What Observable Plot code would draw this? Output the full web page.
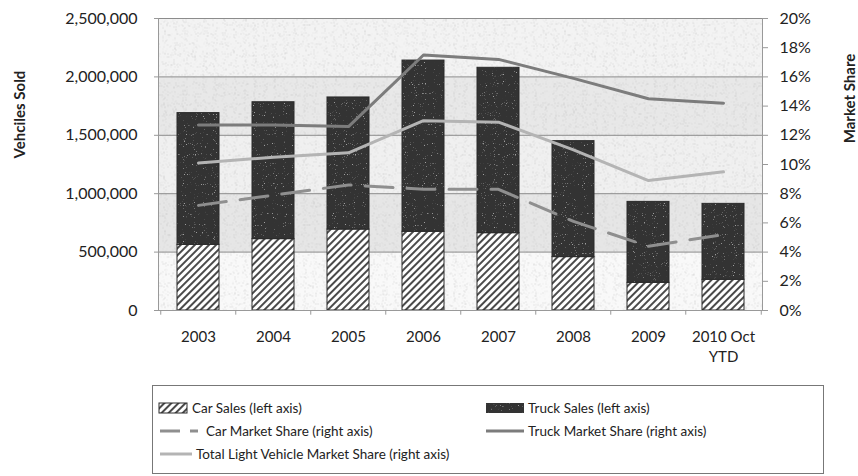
<!DOCTYPE html>
<html><head><meta charset="utf-8">
<script src="https://cdn.jsdelivr.net/npm/d3@7"></script>
<script src="https://cdn.jsdelivr.net/npm/@observablehq/plot@0.6"></script>
<style>
body{margin:0;background:#fff;font-family:Lato,"Open Sans",sans-serif;}
#chart svg{display:block;}
.legend{position:absolute;left:152px;top:385px;width:672px;height:89px;border:1px solid #777;box-sizing:border-box;font-size:13.5px;color:#222;font-family:Lato,sans-serif;}
.item{position:absolute;display:flex;align-items:center;height:20px;white-space:nowrap;}
.item svg{margin-right:4px;}
</style></head><body>
<svg width="0" height="0" style="position:absolute">
<defs>
<pattern id="hatch" patternUnits="userSpaceOnUse" width="5" height="5" patternTransform="rotate(45)">
<rect width="5" height="5" fill="#fff"/>
<line x1="1" y1="0" x2="1" y2="5" stroke="#2a2a2a" stroke-width="1.7"/>
</pattern>
<filter id="nzDark" x="0" y="0" width="100%" height="100%">
<feTurbulence type="fractalNoise" baseFrequency="0.9" numOctaves="1" seed="4"/>
<feColorMatrix type="matrix" values="0 0 0 0 0.45  0 0 0 0 0.45  0 0 0 0 0.45  9 0 0 0 -5.4"/>
</filter>
<filter id="nzLight" x="0" y="0" width="100%" height="100%">
<feTurbulence type="fractalNoise" baseFrequency="0.9" numOctaves="1" seed="7"/>
<feColorMatrix type="matrix" values="0 0 0 0 0.5  0 0 0 0 0.5  0 0 0 0 0.5  9 0 0 0 -5.9"/>
</filter>
<pattern id="truckTex" patternUnits="userSpaceOnUse" width="160" height="160">
<rect width="160" height="160" fill="#333"/>
<rect width="160" height="160" fill="#fff" filter="url(#nzLight)" opacity="0.8"/>
</pattern>
<pattern id="speck" patternUnits="userSpaceOnUse" width="200" height="200">
<rect width="200" height="200" fill="#fff" filter="url(#nzDark)" opacity="0.5"/>
</pattern>
<linearGradient id="bg" x1="0" y1="0" x2="0" y2="1">
<stop offset="0" stop-color="#f3f3f3"/><stop offset="0.2" stop-color="#f3f3f3"/>
<stop offset="0.2" stop-color="#e8e8e8"/><stop offset="0.4" stop-color="#e8e8e8"/>
<stop offset="0.4" stop-color="#f0f0f0"/><stop offset="0.6" stop-color="#f0f0f0"/>
<stop offset="0.6" stop-color="#e6e6e6"/><stop offset="0.8" stop-color="#e6e6e6"/>
<stop offset="0.8" stop-color="#f9f9f9"/><stop offset="1" stop-color="#f9f9f9"/>
</linearGradient>
</defs>
</svg>
<div id="chart"></div>
<div class="legend" id="legend"></div>
<script>
// ---- data ----
const years = ["2003", "2004", "2005", "2006", "2007", "2008", "2009", "2010 Oct\nYTD"];
const carSales = [562000, 611000, 693000, 674000, 662000, 457000, 237000, 263000];
const truckSales = [1128000, 1172000, 1131000, 1466000, 1416000, 993000, 693000, 650000];
const carShare = [7.2, 7.9, 8.6, 8.3, 8.3, 6.1, 4.4, 5.2];      // %
const truckShare = [12.7, 12.7, 12.6, 17.5, 17.2, 15.9, 14.5, 14.2];
const totalShare = [10.1, 10.5, 10.8, 13.0, 12.9, 11.0, 8.9, 9.5];
const salesTicks = [0, 500000, 1000000, 1500000, 2000000, 2500000];
const shareTicks = [0, 2, 4, 6, 8, 10, 12, 14, 16, 18, 20];
const seriesNames = ["Car Sales (left axis)", "Truck Sales (left axis)", "Car Market Share (right axis)", "Truck Market Share (right axis)", "Total Light Vehicle Market Share (right axis)"];

const K = 2500000 / 20; // sales units per 1% on the right axis

const bars = years.flatMap((y, i) => [
  {year: y, type: "Car", value: carSales[i]},
  {year: y, type: "Truck", value: truckSales[i]}
]);
const shares = years.map((y, i) => ({year: y, car: carShare[i], truck: truckShare[i], total: totalShare[i]}));

const chart = Plot.plot({
  width: 858, height: 385,
  marginLeft: 158, marginRight: 96, marginTop: 18, marginBottom: 75,
  style: {fontFamily: "Lato, sans-serif", fontSize: "16px", color: "#222", background: "transparent", overflow: "visible"},
  x: {domain: years, paddingInner: 0.44, paddingOuter: 0.22, axis: null},
  y: {domain: [0, 2500000], axis: null},
  color: {domain: ["Car", "Truck"], range: ["url(#hatch)", "url(#truckTex)"]},
  marks: [
    Plot.frame({fill: "url(#bg)", stroke: null}),
    Plot.frame({fill: "url(#speck)", stroke: null}),
    Plot.gridY(salesTicks, {stroke: "#8c8c8c", strokeOpacity: 1, strokeWidth: 1}),
    Plot.barY(bars, {x: "year", y: "value", fill: "type", stroke: "#2a2a2a", strokeWidth: 1}),
    Plot.lineY(shares, {x: "year", y: d => d.total * K, stroke: "#b4b4b4", strokeWidth: 3}),
    Plot.lineY(shares, {x: "year", y: d => d.truck * K, stroke: "#7c7c7c", strokeWidth: 3}),
    Plot.lineY(shares, {x: "year", y: d => d.car * K, stroke: "#8f8f8f", strokeWidth: 3, strokeDasharray: "28,14"}),
    Plot.frame({anchor: "left", stroke: "#999"}),
    Plot.frame({anchor: "right", stroke: "#999"}),
    Plot.ruleY([0], {stroke: "#999"}),
    Plot.ruleX(years, {x: d => d, dx: -37.75, y1: 0, y2: -40000, stroke: "#999"}),
    Plot.ruleX(years.slice(-1), {x: d => d, dx: 37.75, y1: 0, y2: -40000, stroke: "#999"}),
    Plot.axisY(salesTicks, {anchor: "left", tickSize: 4, tickPadding: 17, stroke: "#999", tickFormat: d3.format(","), label: null}),
    Plot.axisY(shareTicks.map(v => v * K), {anchor: "right", tickSize: 5, tickPadding: 12, stroke: "#999", tickFormat: v => Math.round(v / K) + "%", label: null}),
    Plot.axisX({tickSize: 0, tickPadding: 17, lineHeight: 1.35, fontSize: 15, label: null}),
    Plot.text(["Vehciles Sold"], {frameAnchor: "left", dx: -138, dy: -50, rotate: -90, textAnchor: "middle", fontWeight: "bold", fontSize: 15}),
    Plot.text(["Market Share"], {frameAnchor: "right", dx: 88, dy: -66, rotate: -90, textAnchor: "middle", fontWeight: "bold", fontSize: 15})
  ]
});
document.getElementById("chart").appendChild(chart);

// ---- legend ----
const sw = {
  0: `<svg width="30" height="14"><rect x="1" y="2" width="28" height="10" fill="url(#hatch)" stroke="#2a2a2a"/></svg>`,
  1: `<svg width="38" height="14"><rect x="0" y="2" width="38" height="10" fill="url(#truckTex)"/></svg>`,
  2: `<svg width="44" height="14"><line x1="2" y1="7" x2="22" y2="7" stroke="#8f8f8f" stroke-width="3"/><line x1="32" y1="7" x2="40" y2="7" stroke="#8f8f8f" stroke-width="3"/></svg>`,
  3: `<svg width="38" height="14"><line x1="0" y1="7" x2="38" y2="7" stroke="#7c7c7c" stroke-width="3"/></svg>`,
  4: `<svg width="34" height="14"><line x1="2" y1="7" x2="34" y2="7" stroke="#b4b4b4" stroke-width="3"/></svg>`
};
const pos = [[5, 12], [333, 12], [5, 35], [333, 35], [5, 58]];
const lg = document.getElementById("legend");
seriesNames.forEach((name, i) => {
  const d = document.createElement("div");
  d.className = "item";
  d.style.left = pos[i][0] + "px";
  d.style.top = pos[i][1] + "px";
  d.innerHTML = sw[i] + `<span>${name}</span>`;
  lg.appendChild(d);
});
</script>
</body></html>
